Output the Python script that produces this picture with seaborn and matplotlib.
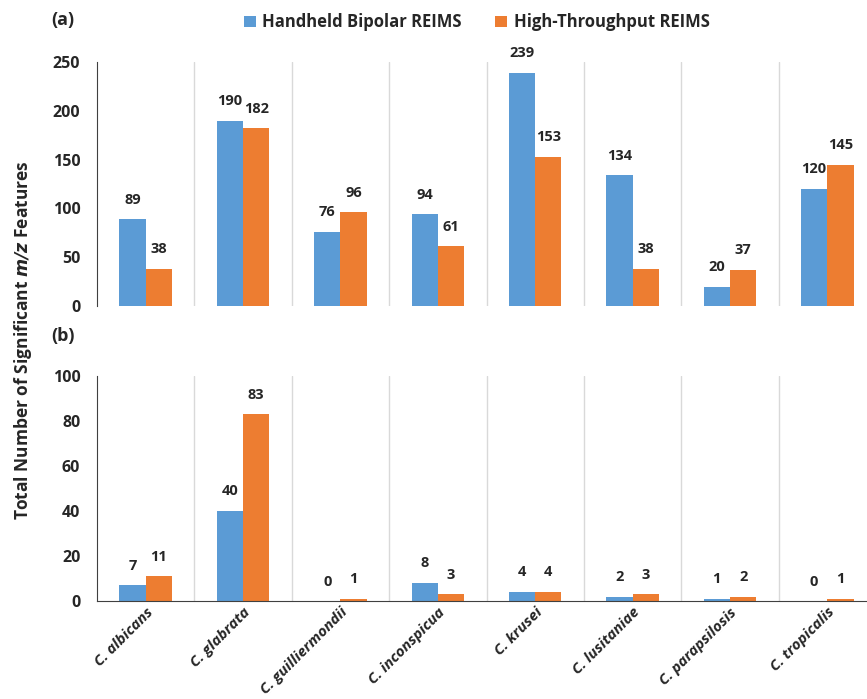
import numpy as np
import pandas as pd
import matplotlib.pyplot as plt
import seaborn as sns

sns.set_style("white")
plt.rcParams['font.family'] = ['Open Sans', 'DejaVu Sans']

# data
species = ['C. albicans', 'C. glabrata', 'C. guilliermondii', 'C. inconspicua',
           'C. krusei', 'C. lusitaniae', 'C. parapsilosis', 'C. tropicalis']
methods = ['Handheld Bipolar REIMS', 'High-Throughput REIMS']
a_handheld = [89, 190, 76, 94, 239, 134, 20, 120]
a_highthru = [38, 182, 96, 61, 153, 38, 37, 145]
b_handheld = [7, 40, 0, 8, 4, 2, 1, 0]
b_highthru = [11, 83, 1, 3, 4, 3, 2, 1]

colors = ['#5B9BD5', '#ED7D31']


def long_df(h, t):
    return pd.DataFrame({
        'species': species * 2,
        'method': [methods[0]] * len(species) + [methods[1]] * len(species),
        'count': h + t,
    })


fig = plt.figure(figsize=(8.67, 6.99), dpi=100)
ax_a = fig.add_axes([0.1119, 0.5622, 0.8985, 0.349])
ax_b = fig.add_axes([0.1119, 0.1402, 0.8985, 0.3219])

panels = [(ax_a, long_df(a_handheld, a_highthru), 250, 50),
          (ax_b, long_df(b_handheld, b_highthru), 100, 20)]

for ax, df, ymax, step in panels:
    sns.barplot(data=df, x='species', y='count', hue='method', order=species,
                hue_order=methods, palette=colors, width=0.54, ax=ax,
                saturation=1, linewidth=0, legend=(ax is ax_a))
    for c in ax.containers:
        ax.bar_label(c, padding=9, fontsize=10.5, fontweight='bold')
    ax.set_ylim(0, ymax)
    ax.set_yticks(np.arange(0, ymax + 1, step))
    ax.set_xlim(-0.5, len(species) - 0.5)
    ax.set_xticks(np.arange(0.5, len(species) - 0.5), minor=True)
    ax.grid(True, which='minor', axis='x', color='#D9D9D9', lw=1)
    ax.grid(False, which='major')
    ax.tick_params(axis='y', length=0, labelsize=11.5, pad=12)
    for lab in ax.get_yticklabels():
        lab.set_fontweight('bold')
    ax.tick_params(axis='x', which='both', length=0)
    ax.set_xlabel('')
    ax.set_ylabel('')
    for s in ['top', 'right']:
        ax.spines[s].set_visible(False)
    ax.spines['left'].set_color('#404040')
    ax.spines['bottom'].set_color('#404040')

ax_a.spines['bottom'].set_visible(False)
ax_a.set_xticklabels([])
ax_b.set_xticks(range(len(species)))
ax_b.set_xticklabels(species, rotation=45, ha='right', rotation_mode='anchor',
                     fontsize=10.8, fontweight='bold', fontstyle='italic')
ax_b.tick_params(axis='x', pad=3)

# panel tags
fig.text(0.073, 0.971, '(a)', fontsize=13, fontweight='bold', ha='center', va='center')
fig.text(0.073, 0.519, '(b)', fontsize=13, fontweight='bold', ha='center', va='center')

leg = ax_a.legend(loc='center', bbox_to_anchor=(0.55, 0.968),
                  bbox_transform=fig.transFigure, ncol=2, frameon=False,
                  handlelength=0.7, handleheight=0.7, handletextpad=0.4,
                  columnspacing=2.0, prop={'weight': 'bold', 'size': 12})

fig.text(0.026, 0.513, 'Total Number of Significant $\\bfit{m/z}$ Features',
         rotation=90, ha='center', va='center', fontsize=12.5, fontweight='bold')

fig.savefig('out.png', dpi=100)
